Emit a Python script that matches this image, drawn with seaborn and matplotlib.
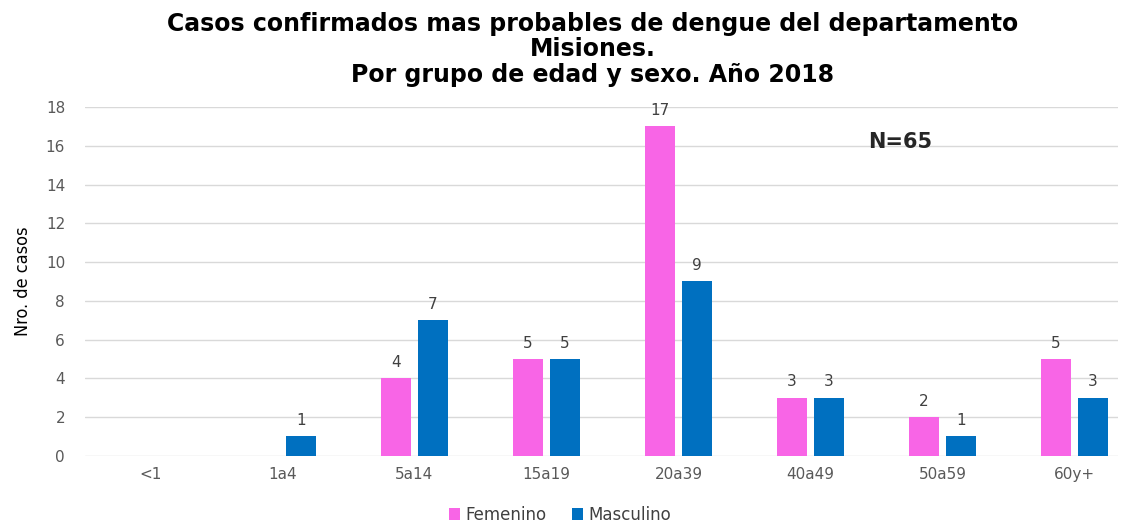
import pandas as pd
import seaborn as sns
import matplotlib.pyplot as plt

grupos = ["<1", "1a4", "5a14", "15a19", "20a39", "40a49", "50a59", "60y+"]
femenino = [0, 0, 4, 5, 17, 3, 2, 5]
masculino = [0, 1, 7, 5, 9, 3, 1, 3]

df = pd.DataFrame({
    "grupo": grupos * 2,
    "casos": femenino + masculino,
    "sexo": ["Femenino"] * len(grupos) + ["Masculino"] * len(grupos),
})

sns.set_style("white")
plt.rcParams["font.family"] = ["DejaVu Sans"]

fig = plt.figure(figsize=(11.27, 5.27), dpi=100)
ax = fig.add_axes([0.075, 0.135, 0.917, 0.662])

sns.barplot(data=df, x="grupo", y="casos", hue="sexo", order=grupos,
            palette={"Femenino": "#F865E6", "Masculino": "#0070C0"},
            width=0.56, gap=0.19, saturation=1, linewidth=0, ax=ax)

# etiquetas de valores (sin ceros)
for cont in ax.containers:
    labels = [f"{v:g}" if v > 0 else "" for v in cont.datavalues]
    ax.bar_label(cont, labels=labels, padding=6, fontsize=11, color="#404040")

ax.set_xlim(-0.5, 7.33)
ax.set_ylim(0, 18)
ax.set_yticks(range(0, 19, 2))
ax.grid(True, axis="y", color="#D9D9D9", linewidth=1)
ax.set_axisbelow(True)
for s in ["top", "right", "left", "bottom"]:
    ax.spines[s].set_visible(False)
ax.tick_params(axis="both", length=0, labelsize=11, labelcolor="#595959", pad=8)
ax.tick_params(axis="y", pad=14)

ax.set_xlabel("")
ax.set_ylabel("Nro. de casos", fontsize=13, color="black",
              fontstretch="condensed", labelpad=10)

fig.suptitle("Casos confirmados mas probables de dengue del departamento\nMisiones.\nPor grupo de edad y sexo. Año 2018",
             x=0.526, y=0.978, fontsize=17, fontweight="bold", linespacing=1.08,
             color="black")

ax.text(5.68, 16.2, "N=65", fontsize=15, fontweight="bold", ha="center", va="center")

ax.legend(loc="upper center", bbox_to_anchor=(0.46, -0.1), ncol=2, frameon=False,
          fontsize=12, handlelength=0.7, handleheight=0.7, columnspacing=1.5,
          handletextpad=0.3, labelcolor="#404040")

fig.savefig("out.png", dpi=100)
